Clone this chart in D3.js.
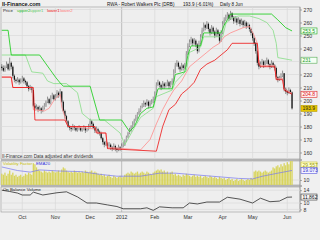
<!DOCTYPE html>
<html>
<head>
<meta charset="utf-8">
<script src="https://cdn.jsdelivr.net/npm/d3@7"></script>
<style>
  body { margin: 0; background: #f0f0f0; }
  svg { display: block; font-family: "Liberation Sans", Arial, sans-serif; }
</style>
</head>
<body>
<svg id="chart" width="320" height="240"></svg>
<script>
// month ticks, as trading-day index
const monthTicks = [13, 34, 56, 76, 97, 118, 140, 159, 181];
const monthLabels = ["Oct", "Nov", "Dec", "2012", "Feb", "Mar", "Apr", "May", "Jun"];

// daily closes, mid Sep 2011 .. 8 Jun 2012
const closes = [
  225,223,226,228,224,229,226,219,216,215, 216,214,215,217,215,214,211,209,210,208,
  196,194,195,193,194,192,194,196,199,201, 198,202,204,201,203,206,204,207,199,192,
  188,184,180,179,178,180,179,177,178,179, 177,178,179,177,178,180,184,182,179,177,
  178,176,175,171,168,166,167,165,166,164, 163,165,163,162,164,163,165,166,169,172,
  175,177,180,182,185,187,190,192,195,196, 198,197,199,196,198,199,201,205,212,214,
  212,210,213,211,212,214,211,213,215,222, 227,229,226,224,227,225,227,236,242,245,
  247,244,246,243,238,244,249,254,258,256, 259,255,252,256,253,250,254,251,246,252,
  259,262,264,266,263,267,264,261,263,260, 262,259,261,258,260,257,258,255,252,248,
  244,238,229,226,228,230,227,229,231,228, 226,229,227,225,218,216,217,219,221,209,
  207,206,208,206.3,193.9
];
const highs = [
  228,227,227,230,229,233,230,227,220,217, 218,217,217,219,218,216,215,212,212,211,
  208,198,197,196,196,195,196,198,200,203, 202,204,206,205,205,208,207,209,207,200,
  193,189,185,181,180,182,181,180,180,181, 180,179,181,180,179,182,186,185,183,180,
  180,179,177,176,172,169,169,168,168,167, 165,167,166,164,166,165,167,168,170,173,
  176,179,181,184,186,189,191,194,196,198, 200,199,201,200,200,201,203,207,214,216,
  215,213,215,214,214,216,215,215,217,224, 229,231,230,227,229,228,229,238,244,247,
  249,248,248,247,244,246,251,256,260,259, 261,260,256,258,257,254,256,255,252,254,
  261,264,266,268,267,269,268,265,265,264, 264,263,263,262,262,261,260,259,256,253,
  249,245,239,231,230,232,231,231,233,232, 229,231,230,228,226,219,219,221,223,221,
  210,208,210,209,207
];
const lows = [
  223,222,222,225,223,223,224,217,214,213, 214,212,213,214,213,212,210,207,208,206,
  195,192,193,191,192,190,191,193,195,198, 197,197,201,200,200,202,202,203,198,191,
  186,183,179,177,176,177,177,176,176,177, 176,176,177,175,176,177,179,180,178,175,
  176,174,173,170,166,164,165,163,164,162, 161,162,161,160,161,161,162,164,165,168,
  171,174,176,179,181,184,186,189,191,194, 195,195,196,194,195,197,198,200,204,211,
  210,208,209,209,210,211,209,210,212,214, 221,226,224,222,223,223,224,226,235,241,
  243,242,243,241,236,237,243,248,253,254, 255,253,250,251,251,248,249,249,244,245,
  251,258,261,263,261,262,262,259,260,258, 259,257,258,256,257,255,256,253,250,246,
  242,236,227,224,225,227,225,226,228,226, 224,225,225,223,216,214,215,216,218,207,
  205,204,205,205,193
];

// trailing band levels as [day index, price]
const upper2 = [
  [0,254],[4,254],[6,235],[24,235],[34,218],[37,213.5],[39,211],[56,211],[62,185],
  [76,185],[81,176],[84,180],[88,190],[92,194],[96,195],[97,200],[99,209],[108,209],
  [110,220],[116,222],[118,235],[120,242],[126,242],[128,252],[139,252],[141,258],
  [143,262],[145,266.5],[171,266.5],[175,262],[180,256],[184,253.5]
];
const upper1 = [
  [0,235],[15,235],[19,222],[26,221],[29,215],[33,213],[41,213],[48,206],[51,190],
  [56,185],[65,185],[75,175],[78,166],[84,179],[88,187],[96,194],[98,203],[108,208],
  [110,214],[117,223],[119,237],[126,241],[128,249],[140,249],[142,259],[145,263],
  [150,265],[157,265],[163,263],[168,260],[172,254],[174,244],[175,233],[184,231]
];
const lower1 = [
  [0,218],[6,218],[7,210],[20,210],[21,185],[40,185],[42,180],[59,180],[60,175],
  [66,175],[67,163],[98,161],[102,180],[106,193],[110,197],[114,205],[118,209],
  [122,214],[126,224],[130,228],[135,231],[139,235],[143,239],[146,244],[162,244],
  [163,228],[164,226],[173,226],[174,216],[178,216],[179,208],[184,204.8]
];
const lower2 = [
  [0,218],[6,218],[7,210],[19,210],[20,193],[27,192],[30,194],[33,200],[37,205],
  [38,195],[42,180],[60,178],[61,175],[66,175],[67,164],[88,162],[94,170],[98,182],
  [102,193],[106,202],[109,208],[114,215],[119,226],[124,231],[130,237],[134,241],
  [138,244],[141,249],[145,252],[153,256],[157,257],[160,250],[162,244],[163,229],
  [164,227],[173,227],[174,217],[178,217],[179,209],[184,205.5]
];

// volatility factor (daily) and its EMA20
const volFactor = [
  16,15,17,14,16,19,15,17,14,15, 13,14,15,13,14,16,15,17,16,15,
  26,25,22,20,19,18,17,19,18,17, 18,17,19,18,17,18,19,17,20,22,
  21,19,18,17,18,17,19,18,17,18, 17,18,17,19,18,17,18,19,17,18,
  17,16,15,16,14,15,13,14,15,13, 12,14,13,12,13,14,12,13,15,16,
  17,16,18,17,16,17,18,16,17,18, 17,16,18,17,16,15,17,18,19,20,
  19,20,18,19,17,18,16,17,18,15, 16,14,15,14,13,15,14,16,15,14,
  13,14,15,13,14,13,14,12,13,14, 13,12,14,13,12,13,12,11,13,12,
  11,12,10,11,12,10,11,9,10,11, 9,10,11,10,9,10,11,10,12,11,
  18,19,18,19,18,17,18,19,18,17, 18,19,22,21,23,24,22,25,23,26,
  24,27,25,28,29.557
];
const volEma = [
  [0,22.4],[10,19],[18,17.5],[24,19.6],[37,18.5],[50,18],[62,15.4],[73,13.6],
  [88,13.6],[100,16.5],[110,16.5],[130,14],[150,11.5],[159,11],[165,13.5],
  [175,16.5],[184,19.073]
];

// on balance volume
const obv = [
  [0,14],[5,13.6],[10,13.1],[13,12.5],[18,12.5],[20,13.4],[26,12.5],[35,13.2],
  [41,13.5],[48,11.9],[54,10],[60,10],[67,9.4],[73,8.9],[77,8.2],[88,8.2],[92,8.5],
  [96,7.7],[100,8.8],[108,8.5],[115,8.5],[119,10],[124,9.7],[130,10.3],[138,10.3],
  [143,11.8],[151,11.2],[159,10],[164,11.5],[170,10.4],[176,10.6],[181,11.8],[184,11.862]
];

const priceTicks = [160,170,180,190,200,210,220,230,240,250,260,270];
const priceLabels = [160,170,180,190,200,210,220,240,250,260,270];
const volTicks = [10];
const obvTicks = [8,10,14];

const svg = d3.select("#chart");
const left = 1, right = 300;
const main = {top: 7, bottom: 159};
const volP = {top: 161, bottom: 185};
const obvP = {top: 187, bottom: 212};

const x = d3.scaleLinear().domain([13, 181]).range([22.3, 287.3]);
const y = d3.scaleLinear().domain([160, 270]).range([152.5, 9.5]);
const yv = d3.scaleLinear().domain([5.2, 28.1]).range([185, 161]);
const yo = d3.scaleLinear().domain([10, 14]).range([203, 190.2]);

svg.append("rect").attr("width", 320).attr("height", 240).attr("fill", "#f0f0f0");

// panels
[main, volP, obvP].forEach(p => {
  svg.append("rect")
    .attr("x", left).attr("y", p.top)
    .attr("width", right - left).attr("height", p.bottom - p.top)
    .attr("fill", "#eeeeee").attr("stroke", "#999").attr("stroke-width", 0.6);
});
// gray bands between panels
[159, 185].forEach(t => {
  svg.append("rect").attr("x", left).attr("y", t).attr("width", right - left + 2)
    .attr("height", 2).attr("fill", "#b4b4b4");
});

// vertical month grid
[main, volP, obvP].forEach(p => {
  svg.append("g").selectAll("line").data(monthTicks).join("line")
    .attr("x1", d => x(d)).attr("x2", d => x(d))
    .attr("y1", p.top).attr("y2", p.bottom)
    .attr("stroke", (d, i) => monthLabels[i] === "2012" ? "#a8a8a8" : "#dadada")
    .attr("stroke-width", 0.7);
});

// horizontal grid, main panel
svg.append("g").selectAll("line").data(priceTicks).join("line")
  .attr("x1", left).attr("x2", right)
  .attr("y1", d => y(d)).attr("y2", d => y(d))
  .attr("stroke", "#dadada").attr("stroke-width", 0.7);

function rightAxis(scale, ticks, labels) {
  const g = svg.append("g").attr("transform", `translate(${right},0)`)
    .call(d3.axisRight(scale).tickValues(ticks).tickSize(2).tickPadding(1.5)
      .tickFormat(d => labels.includes(d) ? d : ""));
  g.select(".domain").remove();
  g.selectAll("line").attr("stroke", "#777").attr("stroke-width", 0.6);
  g.selectAll("text").attr("font-size", 5.2).attr("fill", "#333").attr("font-family", "Liberation Sans, Arial");
}
rightAxis(y, priceTicks, priceLabels);
rightAxis(yv, volTicks, volTicks);
rightAxis(yo, obvTicks, obvTicks);
svg.append("line").attr("x1", right).attr("x2", right).attr("y1", main.top).attr("y2", obvP.bottom)
  .attr("stroke", "#888").attr("stroke-width", 0.6);

svg.append("g").selectAll("line").data(volTicks).join("line")
  .attr("x1", left).attr("x2", right).attr("y1", d => yv(d)).attr("y2", d => yv(d))
  .attr("stroke", "#dadada").attr("stroke-width", 0.7);
svg.append("g").selectAll("line").data(obvTicks).join("line")
  .attr("x1", left).attr("x2", right).attr("y1", d => yo(d)).attr("y2", d => yo(d))
  .attr("stroke", "#dadada").attr("stroke-width", 0.7);

// clip paths
svg.append("clipPath").attr("id", "clipMain").append("rect")
  .attr("x", left).attr("y", main.top).attr("width", right - left).attr("height", main.bottom - main.top);
svg.append("clipPath").attr("id", "clipVol").append("rect")
  .attr("x", left).attr("y", volP.top).attr("width", right - left).attr("height", volP.bottom - volP.top);
svg.append("clipPath").attr("id", "clipObv").append("rect")
  .attr("x", left).attr("y", obvP.top).attr("width", right - left).attr("height", obvP.bottom - obvP.top);

const line = d3.line().x(d => x(d[0])).y(d => y(d[1]));
const gMain = svg.append("g").attr("clip-path", "url(#clipMain)");

// candles
const days = closes.map((c, i) => ({
  i, c, h: highs[i], l: lows[i], o: i > 0 ? closes[i - 1] : 226
}));
gMain.append("g").selectAll("line").data(days).join("line")
  .attr("x1", d => x(d.i)).attr("x2", d => x(d.i))
  .attr("y1", d => y(d.h)).attr("y2", d => y(d.l))
  .attr("stroke", "#333").attr("stroke-width", 0.5);
gMain.append("g").selectAll("rect").data(days).join("rect")
  .attr("x", d => x(d.i) - 0.6).attr("width", 1.2)
  .attr("y", d => y(Math.max(d.o, d.c)))
  .attr("height", d => Math.max(0.6, Math.abs(y(d.o) - y(d.c))))
  .attr("fill", d => d.c >= d.o ? "#a8a8a8" : "#111");

// bands
[[lower2, "#ff8c8c"], [lower1, "#ee1111"], [upper1, "#86dd86"], [upper2, "#11cc11"]].forEach(([data, col]) => {
  gMain.append("path").datum(data).attr("d", line)
    .attr("fill", "none").attr("stroke", col).attr("stroke-width", 0.8);
});

// volatility bars + EMA
const gVol = svg.append("g").attr("clip-path", "url(#clipVol)");
gVol.append("g").selectAll("rect").data(volFactor).join("rect")
  .attr("x", (d, i) => x(i) - 0.65).attr("width", 1.3)
  .attr("y", d => yv(d)).attr("height", d => yv.range()[0] - yv(d))
  .attr("fill", "#d8d45c");
gVol.append("path").datum(volEma)
  .attr("d", d3.line().x(d => x(d[0])).y(d => yv(d[1])))
  .attr("fill", "none").attr("stroke", "#7777ee").attr("stroke-width", 0.7);

// OBV
svg.append("g").attr("clip-path", "url(#clipObv)").append("path").datum(obv)
  .attr("d", d3.line().x(d => x(d[0])).y(d => yo(d[1])))
  .attr("fill", "none").attr("stroke", "#111").attr("stroke-width", 0.7);

// month labels
svg.append("g").selectAll("text").data(monthTicks).join("text")
  .attr("x", d => x(d)).attr("y", 219).attr("text-anchor", "middle")
  .attr("font-size", 5.2).attr("fill", "#333")
  .text((d, i) => monthLabels[i]);

// value boxes on the right
function valueBox(yy, label, stroke, fill, color) {
  const g = svg.append("g").attr("transform", `translate(301,${yy})`);
  g.append("rect").attr("x", 0).attr("y", -3).attr("width", 16).attr("height", 6)
    .attr("fill", fill).attr("stroke", stroke).attr("stroke-width", 0.6);
  g.append("text").attr("x", 1.5).attr("y", 1.9).attr("font-size", 5).attr("fill", color).text(label);
}
valueBox(y(253.5), "253.5", "#22aa22", "#f4fff4", "#119911");
valueBox(y(231), "231", "#55aa55", "#f4fff4", "#229922");
valueBox(y(204.8), "204.8", "#dd2222", "#fff4f4", "#dd1111");
valueBox(y(193.9), "193.9", "#b89a00", "#e8c800", "#222");
valueBox(Math.max(yv(29.557), volP.top + 4), "29.557", "#c8c020", "#ffffd0", "#999900");
valueBox(yv(19.073), "19.073", "#5555dd", "#f4f4ff", "#3333cc");
valueBox(yo(11.862), "11.862", "#333", "#f8f8f8", "#111");

// titles and legends
const t = (xx, yy, s, col, size, weight) => svg.append("text").attr("x", xx).attr("y", yy)
  .attr("font-size", size).attr("fill", col).attr("font-weight", weight || "normal").text(s);
t(2, 5.5, "II-Finance.com", "#111", 5.5, "bold");
t(107, 5.5, "RWA - Robert Walkers Plc (DRB)", "#111", 4.6);
t(183, 5.5, "193.9 (-6.01%)", "#111", 4.6);
t(220, 5.5, "Daily 8 Jun", "#111", 4.6);
t(3, 12, "Price", "#222", 4.3);
t(17, 12, "upper2", "#22bb22", 4.3);
t(30, 12, "upper1", "#66cc66", 4.3);
t(47, 12, "lower1", "#ee1111", 4.3);
t(60, 12, "lower2", "#ff7777", 4.3);
t(2, 157.5, "II-Finance.com Data adjusted after dividends", "#333", 4.6);
t(3, 165, "Volatility Factor", "#c8c000", 4.3);
t(36, 165, "EMA20", "#3333dd", 4.3);
t(3, 191, "On Balance Volume", "#111", 4.3);
</script>
</body>
</html>
